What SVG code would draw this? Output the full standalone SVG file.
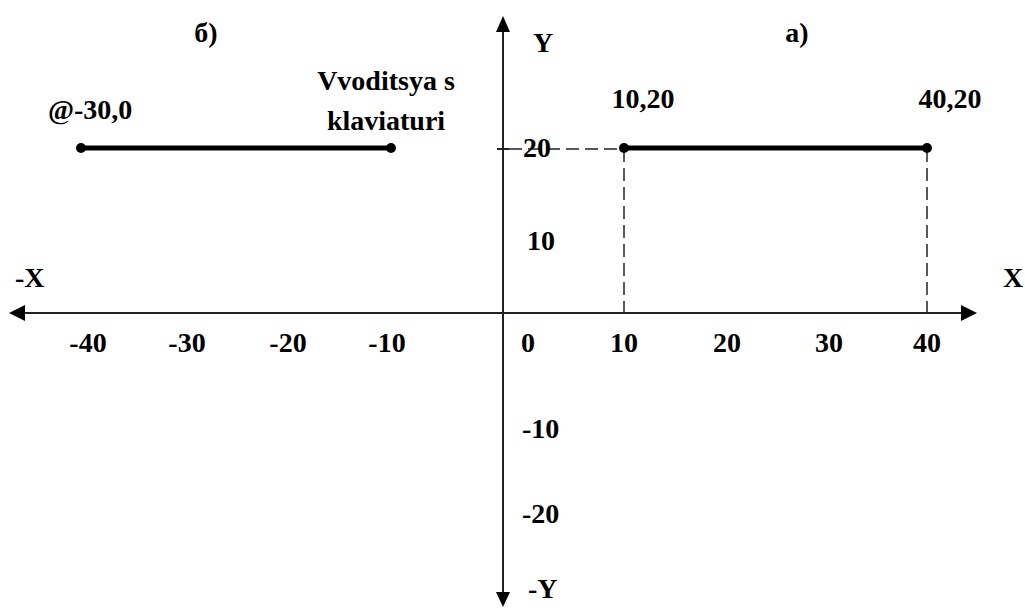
<svg xmlns="http://www.w3.org/2000/svg" width="1025" height="608" viewBox="0 0 1025 608">
<style>
.t{font-family:'Liberation Serif','Times New Roman','DejaVu Serif',serif;font-weight:700;font-size:28px;fill:#000}
.axis{stroke:#222;stroke-width:2;fill:none}
.seg{stroke:#000;stroke-width:5;fill:none}
.dash{stroke:#222;stroke-width:1.5;stroke-dasharray:13 6;fill:none}
.dot{fill:#000}
.head{fill:#000}
</style>
<rect width="1025" height="608" fill="#fff"/>
<g id="axes">
<line class="axis" x1="18" y1="313" x2="965" y2="313"/>
<line class="axis" x1="503" y1="28" x2="503" y2="596"/>
<polygon class="head" points="9,313 25,305 25,321"/>
<polygon class="head" points="977,313 961,305 961,321"/>
<polygon class="head" points="503,16 496,32 510,32"/>
<polygon class="head" points="503,607 496,592 510,592"/>
<line class="axis" x1="497" y1="149" x2="509" y2="149"/>
</g>
<g id="connectors">
<line class="dash" x1="509" y1="149" x2="624" y2="149"/>
<line class="dash" x1="624" y1="149" x2="624" y2="313"/>
<line class="dash" x1="927" y1="149" x2="927" y2="313"/>
</g>
<g id="segment-b">
<line class="seg" x1="81" y1="148" x2="391" y2="148"/>
<circle class="dot" cx="81" cy="148" r="5"/>
<circle class="dot" cx="391" cy="148" r="5"/>
</g>
<g id="segment-a">
<line class="seg" x1="624" y1="148" x2="927" y2="148"/>
<circle class="dot" cx="624" cy="148" r="5"/>
<circle class="dot" cx="927" cy="148" r="5"/>
</g>
<g id="labels" font-family="Liberation Serif, serif" font-weight="bold" font-size="28">
<text class="t" x="206" y="42" text-anchor="middle">б)</text>
<text class="t" x="797" y="42" text-anchor="middle">a)</text>
<text class="t" x="533" y="52">Y</text>
<text class="t" x="386" y="90" text-anchor="middle">Vvoditsya s</text>
<text class="t" x="386" y="130" text-anchor="middle">klaviaturi</text>
<text class="t" x="48" y="119">@-30,0</text>
<text class="t" x="643" y="108" text-anchor="middle">10,20</text>
<text class="t" x="950" y="108" text-anchor="middle">40,20</text>
<text class="t" x="523" y="157">20</text>
<text class="t" x="527" y="250">10</text>
<text class="t" x="15" y="287">-X</text>
<text class="t" x="1003" y="287">X</text>
<text class="t" x="88" y="352" text-anchor="middle">-40</text>
<text class="t" x="187" y="352" text-anchor="middle">-30</text>
<text class="t" x="288" y="352" text-anchor="middle">-20</text>
<text class="t" x="387" y="352" text-anchor="middle">-10</text>
<text class="t" x="528" y="352" text-anchor="middle">0</text>
<text class="t" x="624" y="352" text-anchor="middle">10</text>
<text class="t" x="727" y="352" text-anchor="middle">20</text>
<text class="t" x="829" y="352" text-anchor="middle">30</text>
<text class="t" x="927" y="352" text-anchor="middle">40</text>
<text class="t" x="522" y="438">-10</text>
<text class="t" x="522" y="523">-20</text>
<text class="t" x="528" y="598">-Y</text>
</g>
</svg>
